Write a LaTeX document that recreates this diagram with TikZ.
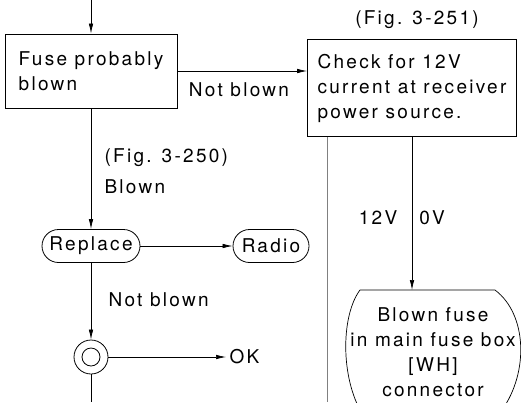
\documentclass[tikz,border=0pt]{standalone}
\usepackage{fontspec}
\setmainfont{TeX Gyre Heros}[LetterSpace=12]
\usetikzlibrary{arrows.meta,shapes.misc}

\begin{document}
\begin{tikzpicture}[x=1pt,y=-1pt,
  every node/.style={font=\fontsize{19}{25}\selectfont},
  box/.style={draw,line width=0.8pt,align=left},
  pill/.style={draw,rounded rectangle,line width=0.8pt,minimum height=33,inner xsep=6},
  conn/.style={line width=0.7pt},
  freccia/.style={conn,-{Latex[length=10pt,width=4.5pt]}}]

\useasboundingbox (0,0) rectangle (521,402);
\clip (0,0) rectangle (521,402);

%========================
% Riga superiore
%========================

% ingresso
\coordinate (in) at (91,0);

% riquadri
\node[box,minimum width=172,minimum height=74] (fuse) at (91,71) {Fuse probably\\blown};
\node[box,minimum width=209,minimum height=97] (check) at (412,88) {Check for 12V\\current at receiver\\power source.};
\node (fig251) at (417,20) {(Fig. 3-251)};

% frecce
\draw[freccia] (in) -- (in |- fuse.north);
\draw[freccia] (fuse.east) -- (fuse.east -| check.west);
\node (nb1) at (239,90) {Not blown};

%========================
% Colonna sinistra
%========================

\node[right] (fig250) at (101,158) {(Fig. 3-250)};
\node[right] (blown) at (101,187) {Blown};

% sostituzione
\node[pill,minimum width=110] (replace) at (91,246) {Replace};
\node[pill,minimum width=88] (radio) at (271,246) {Radio};
\draw[freccia] (fuse.south) -- (replace.north);
\draw[freccia] (replace.east) -- (radio.west);

\node[right] (nb2) at (105,300) {Not blown};

% verifica
\node[circle,draw,line width=0.8pt,minimum size=34,inner sep=0] (verifica) at (91,357) {};
\node[circle,draw,line width=0.8pt,minimum size=18,inner sep=0] (verificain) at (verifica) {};
\draw[freccia] (replace.south) -- (verifica.north);

\node[right] (oklbl) at (226,357) {OK};
\draw[freccia] (verifica.east) -- (oklbl.west);

% uscita
\coordinate (out) at (91,402);
\draw[conn] (verifica.south) -- (out);

%========================
% Colonna destra
%========================

% ramo 12V
\coordinate (v12) at (327,402);
\draw[conn,gray] (check.south -| v12) -- (v12);

\node (v12lbl) at (378,218) {12V};
\node (v0lbl) at (432,218) {0V};

% fusibile
\coordinate (fusetop) at (412,290);
\draw[conn] (502,410) .. controls (529,372) and (527,314) .. (495,290)
  -- (360,290) .. controls (342,314) and (340,372) .. (360,410);
\node[align=center] (blownfuse) at (433,352) {Blown fuse\\in main fuse box\\{[WH]}\\connector};
\draw[freccia] (check.south -| fusetop) -- (fusetop);
\end{tikzpicture}
\end{document}
